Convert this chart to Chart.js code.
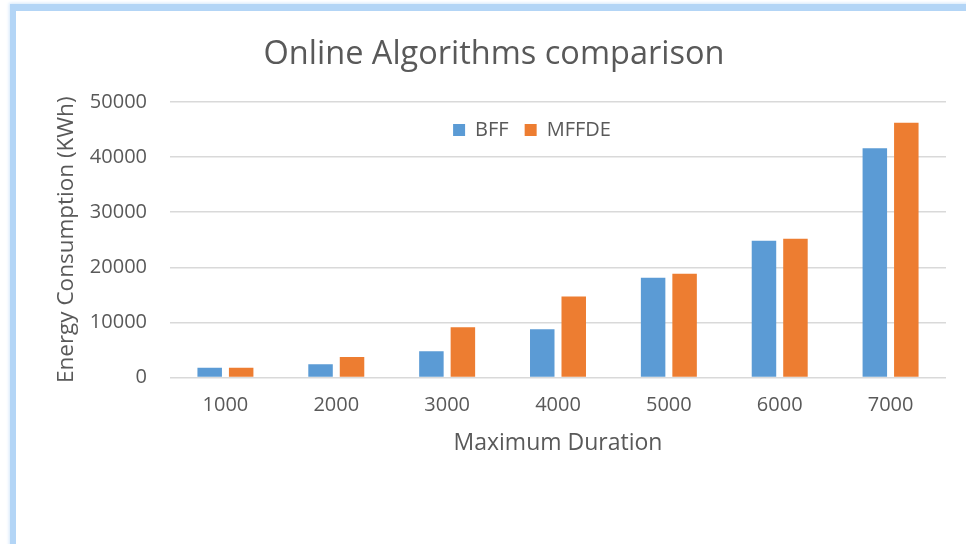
<!DOCTYPE html>
<html>
<head>
<meta charset="utf-8">
<script src="https://cdn.jsdelivr.net/npm/chart.js@4"></script>
<style>
  html, body { margin: 0; padding: 0; background: #fff; }
  #wrap { position: relative; width: 966px; height: 544px; overflow: hidden; }
  #frame {
    position: absolute; left: 10px; top: 4px; width: 980px; height: 538px;
    border-left: 6px solid #b3d5f6; border-top: 7px solid #b3d5f6;
    border-bottom: 1px solid #e2e2e2;
    box-shadow: -1px -1px 3px #d5e8fb;
  }
  canvas { position: absolute; left: 0; top: 0; }
</style>
</head>
<body>
<div id="wrap">
  <div id="frame"></div>
  <canvas id="chart" width="966" height="544"></canvas>
</div>
<script>
// Chart data
const durations = ['1000', '2000', '3000', '4000', '5000', '6000', '7000'];
const bffValues = [1750, 2400, 4750, 8750, 18100, 24800, 41600];
const mffdeValues = [1750, 3700, 9100, 14700, 18850, 25200, 46250];

const TEXT = '#595959';
const FONT = 'Open Sans';

// legend sits inside the plot area: take it out of the layout, then move it in
const legendInPlot = {
  id: 'legendInPlot',
  beforeInit(chart) {
    const originalFit = chart.legend.fit;
    chart.legend.fit = function () {
      originalFit.bind(chart.legend)();
      this.height = 0;
    };
  },
  afterLayout(chart) {
    const legend = chart.legend;
    legend.top = chart.chartArea.top + 2;
    legend.height = 54;
    legend.bottom = legend.top + legend.height;
    legend.left += 38;
    legend.right += 38;
  }
};

const ctx = document.getElementById('chart').getContext('2d');
new Chart(ctx, {
  type: 'bar',
  data: {
    labels: durations,
    datasets: [
      {
        label: 'BFF',
        data: bffValues,
        backgroundColor: '#5b9bd5',
        categoryPercentage: 0.568,
        barPercentage: 0.778
      },
      {
        label: 'MFFDE',
        data: mffdeValues,
        backgroundColor: '#ed7d31',
        categoryPercentage: 0.568,
        barPercentage: 0.778
      }
    ]
  },
  options: {
    responsive: false,
    animation: false,
    layout: { padding: { left: 42, right: 20, top: 0, bottom: 86.5 } },
    plugins: {
      title: {
        display: true,
        text: 'Online Algorithms comparison',
        color: TEXT,
        font: { family: FONT, size: 32.5, weight: 'normal' },
        padding: { top: 35, bottom: 28 }
      },
      legend: {
        display: true,
        position: 'top',
        labels: {
          color: TEXT,
          font: { family: FONT, size: 20 },
          boxWidth: 12,
          boxHeight: 12,
          padding: 16
        }
      },
      tooltip: { enabled: false }
    },
    scales: {
      x: {
        grid: { display: false, drawTicks: false },
        border: { display: false },
        ticks: {
          color: TEXT,
          font: { family: FONT, size: 20 },
          padding: 16
        },
        title: {
          display: true,
          text: 'Maximum Duration',
          color: TEXT,
          font: { family: FONT, size: 23 },
          padding: { top: 0, bottom: 0 }
        },
        afterFit(scale) { scale.height = 80; }
      },
      y: {
        min: 0,
        max: 50000,
        grid: { color: '#d9d9d9', lineWidth: 1.5, drawTicks: false },
        border: { display: false },
        ticks: {
          stepSize: 10000,
          color: TEXT,
          font: { family: FONT, size: 20 },
          padding: 23,
          callback: value => String(value)
        },
        title: {
          display: true,
          text: 'Energy Consumption (KWh)',
          color: TEXT,
          font: { family: FONT, size: 22.5 },
          padding: { top: 11, bottom: 0 }
        },
        afterFit(scale) { scale.width = 128; }
      }
    }
  },
  plugins: [legendInPlot]
});
</script>
</body>
</html>
